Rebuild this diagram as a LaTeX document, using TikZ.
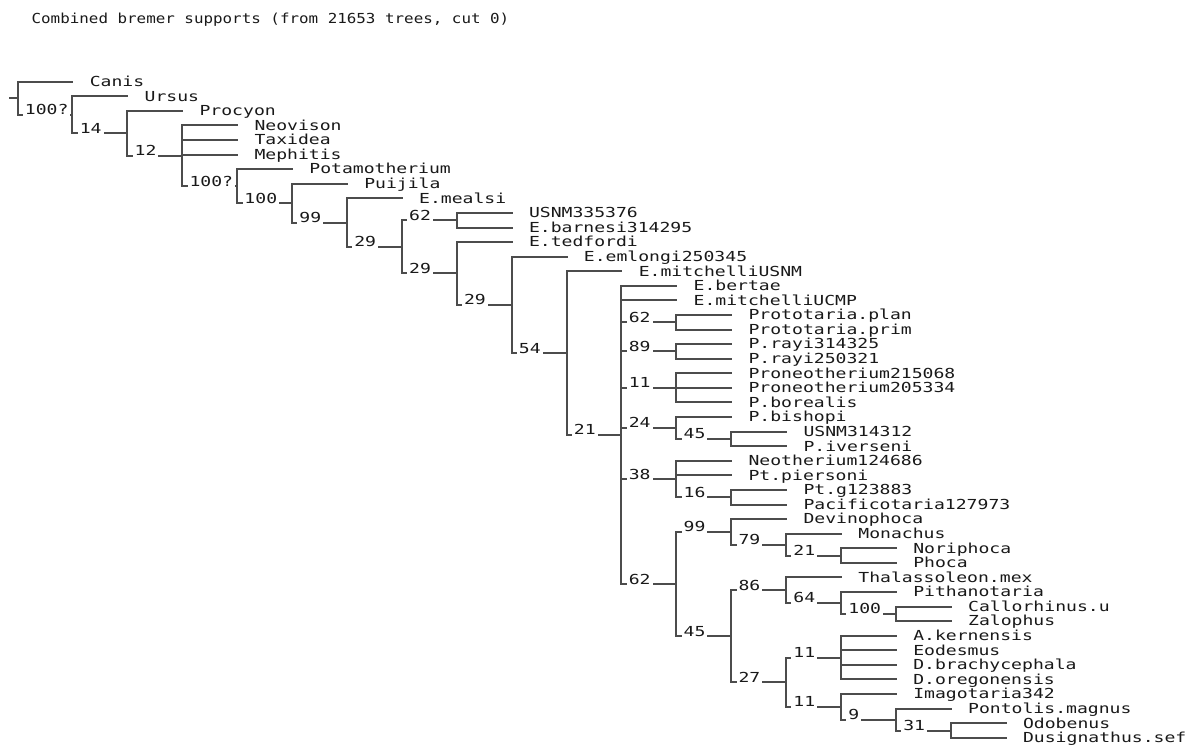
\documentclass[tikz,border=0pt]{standalone}
\usepackage{fontspec}
\newfontfamily\treefont[FakeStretch=1.31]{DejaVu Sans Mono}
\newfontfamily\headfont[FakeStretch=1.15]{DejaVu Sans Mono}

\begin{document}
\begin{tikzpicture}[
    x=27.45pt,y=7.29pt,
    every node/.style={font=\treefont\fontsize{6.9}{8}\selectfont, text=black!90},
    branch/.style={draw=black!70, line width=1pt, line cap=rect},
    taxon/.style={anchor=west, inner xsep=8.5pt, inner ysep=0pt, text height=5.2pt, text depth=0.4pt},
    bremer/.style={anchor=base west, xshift=2.5pt, fill=white, inner xsep=1pt, inner ysep=0.8pt}
]
\useasboundingbox (-0.3188,4.604) rectangle (21.412,-46.768);

% title
\node[font=\headfont\fontsize{6.9}{8}\selectfont, anchor=base west, inner sep=0] (title) at (0.25,2.96)
  {Combined bremer supports (from 21653 trees, cut 0)};

% internal nodes (level, row)
\coordinate (n0)  at (0,-2.135);
\coordinate (n1)  at (1,-3.271);
\coordinate (n2)  at (2,-4.542);
\coordinate (n3)  at (3,-6.083);
\coordinate (n4)  at (4,-8.166);
\coordinate (n5)  at (5,-9.332);
\coordinate (n6)  at (6,-10.663);
\coordinate (n7)  at (7,-12.327);
\coordinate (n8)  at (8,-10.5);
\coordinate (n9)  at (8,-14.153);
\coordinate (n10) at (9,-16.307);
\coordinate (n11) at (10,-19.613);
\coordinate (n12) at (11,-25.227);
\coordinate (n13) at (12,-17.5);
\coordinate (n14) at (12,-19.5);
\coordinate (n15) at (12,-22);
\coordinate (n16) at (12,-24.75);
\coordinate (n17) at (12,-28.25);
\coordinate (n18) at (12,-35.453);
\coordinate (n19) at (13,-25.5);
\coordinate (n20) at (13,-29.5);
\coordinate (n21) at (13,-31.875);
\coordinate (n22) at (13,-39.031);
\coordinate (n23) at (14,-32.75);
\coordinate (n24) at (15,-33.5);
\coordinate (n25) at (14,-35.875);
\coordinate (n26) at (14,-42.188);
\coordinate (n27) at (15,-36.75);
\coordinate (n28) at (16,-37.5);
\coordinate (n29) at (15,-40.5);
\coordinate (n30) at (15,-43.875);
\coordinate (n31) at (16,-44.75);
\coordinate (n32) at (17,-45.5);
\coordinate (stem) at (-0.137,-2.135);

% outgroups
\node[taxon] (canis)    at (1,-1) {Canis};
\node[taxon] (ursus)    at (2,-2) {Ursus};
\node[taxon] (procyon)  at (3,-3) {Procyon};
\node[taxon] (neovison) at (4,-4) {Neovison};
\node[taxon] (taxidea)  at (4,-5) {Taxidea};
\node[taxon] (mephitis) at (4,-6) {Mephitis};
\node[taxon] (potamoth) at (5,-7) {Potamotherium};
\node[taxon] (puijila)  at (6,-8) {Puijila};

% stem taxa
\node[taxon] (emealsi)    at (7,-9)   {E.mealsi};
\node[taxon] (usnma)      at (9,-10)  {USNM335376};
\node[taxon] (ebarnesi)   at (9,-11)  {E.barnesi314295};
\node[taxon] (etedfordi)  at (9,-12)  {E.tedfordi};
\node[taxon] (eemlongi)   at (10,-13) {E.emlongi250345};
\node[taxon] (emitchusnm) at (11,-14) {E.mitchelliUSNM};
\node[taxon] (ebertae)    at (12,-15) {E.bertae};
\node[taxon] (emitchucmp) at (12,-16) {E.mitchelliUCMP};
\node[taxon] (protplan)   at (13,-17) {Prototaria.plan};
\node[taxon] (protprim)   at (13,-18) {Prototaria.prim};
\node[taxon] (prayia)     at (13,-19) {P.rayi314325};
\node[taxon] (prayib)     at (13,-20) {P.rayi250321};
\node[taxon] (proneoa)    at (13,-21) {Proneotherium215068};
\node[taxon] (proneob)    at (13,-22) {Proneotherium205334};
\node[taxon] (pborealis)  at (13,-23) {P.borealis};
\node[taxon] (pbishopi)   at (13,-24) {P.bishopi};
\node[taxon] (usnmb)      at (14,-25) {USNM314312};
\node[taxon] (piverseni)  at (14,-26) {P.iverseni};
\node[taxon] (neotherium) at (13,-27) {Neotherium124686};
\node[taxon] (ptpiersoni) at (13,-28) {Pt.piersoni};
\node[taxon] (ptg)        at (14,-29) {Pt.g123883};
\node[taxon] (pacifico)   at (14,-30) {Pacificotaria127973};

% crown
\node[taxon] (devinophoca) at (14,-31) {Devinophoca};
\node[taxon] (monachus)    at (15,-32) {Monachus};
\node[taxon] (noriphoca)   at (16,-33) {Noriphoca};
\node[taxon] (phoca)       at (16,-34) {Phoca};
\node[taxon] (thalasso)    at (15,-35) {Thalassoleon.mex};
\node[taxon] (pithano)     at (16,-36) {Pithanotaria};
\node[taxon] (callorhinus) at (17,-37) {Callorhinus.u};
\node[taxon] (zalophus)    at (17,-38) {Zalophus};
\node[taxon] (akern)       at (16,-39) {A.kernensis};
\node[taxon] (eodesmus)    at (16,-40) {Eodesmus};
\node[taxon] (dbrachy)     at (16,-41) {D.brachycephala};
\node[taxon] (doregon)     at (16,-42) {D.oregonensis};
\node[taxon] (imagotaria)  at (16,-43) {Imagotaria342};
\node[taxon] (pontolis)    at (17,-44) {Pontolis.magnus};
\node[taxon] (odobenus)    at (18,-45) {Odobenus};
\node[taxon] (dusign)      at (18,-46) {Dusignathus.sef};

% verticals
\foreach \n/\a/\b in {n0/canis/n1, n1/ursus/n2, n2/procyon/n3, n3/neovison/n4,
    n4/potamoth/n5, n5/puijila/n6, n6/emealsi/n7, n7/n8/n9, n8/usnma/ebarnesi,
    n9/etedfordi/n10, n10/eemlongi/n11, n11/emitchusnm/n12, n12/ebertae/n18,
    n13/protplan/protprim, n14/prayia/prayib, n15/proneoa/pborealis,
    n16/pbishopi/n19, n17/neotherium/n20, n18/n21/n22, n19/usnmb/piverseni,
    n20/ptg/pacifico, n21/devinophoca/n23, n22/n25/n26, n23/monachus/n24,
    n24/noriphoca/phoca, n25/thalasso/n27, n26/n29/n30, n27/pithano/n28,
    n28/callorhinus/zalophus, n29/akern/doregon, n30/imagotaria/n31,
    n31/pontolis/n32, n32/odobenus/dusign}
  \draw[branch] (\n |- \a) -- (\n |- \b);

% terminal branches
\foreach \p/\t in {n0/canis, n1/ursus, n2/procyon, n3/neovison, n3/taxidea,
    n3/mephitis, n4/potamoth, n5/puijila, n6/emealsi, n8/usnma, n8/ebarnesi,
    n9/etedfordi, n10/eemlongi, n11/emitchusnm, n12/ebertae, n12/emitchucmp,
    n13/protplan, n13/protprim, n14/prayia, n14/prayib, n15/proneoa,
    n15/proneob, n15/pborealis, n16/pbishopi, n19/usnmb, n19/piverseni,
    n17/neotherium, n17/ptpiersoni, n20/ptg, n20/pacifico, n21/devinophoca,
    n23/monachus, n24/noriphoca, n24/phoca, n25/thalasso, n27/pithano,
    n28/callorhinus, n28/zalophus, n29/akern, n29/eodesmus, n29/dbrachy,
    n29/doregon, n30/imagotaria, n31/pontolis, n32/odobenus, n32/dusign}
  \draw[branch] (\p |- \t) -- (\t.west);

% internal branches
\draw[branch] (stem) -- (n0);
\foreach \p/\c in {n0/n1, n1/n2, n2/n3, n3/n4, n4/n5, n5/n6, n6/n7, n7/n8,
    n7/n9, n9/n10, n10/n11, n11/n12, n12/n13, n12/n14, n12/n15, n12/n16,
    n12/n17, n12/n18, n16/n19, n17/n20, n18/n21, n18/n22, n21/n23, n23/n24,
    n22/n25, n22/n26, n25/n27, n27/n28, n26/n29, n26/n30, n30/n31, n31/n32}
  \draw[branch] (\p |- \c) -- (\c);

% bremer supports
\foreach \p/\c/\s in {n0/n1/100?, n1/n2/14, n2/n3/12, n3/n4/100?, n4/n5/100,
    n5/n6/99, n6/n7/29, n7/n8/62, n7/n9/29, n9/n10/29, n10/n11/54, n11/n12/21,
    n12/n13/62, n12/n14/89, n12/n15/11, n12/n16/24, n12/n17/38, n12/n18/62,
    n16/n19/45, n17/n20/16, n18/n21/99, n18/n22/45, n21/n23/79, n23/n24/21,
    n22/n25/86, n22/n26/27, n25/n27/64, n27/n28/100, n26/n29/11, n26/n30/11,
    n30/n31/9, n31/n32/31}
  \node[bremer] (b\c) at (\p |- \c) {\s};

\end{tikzpicture}
\end{document}
